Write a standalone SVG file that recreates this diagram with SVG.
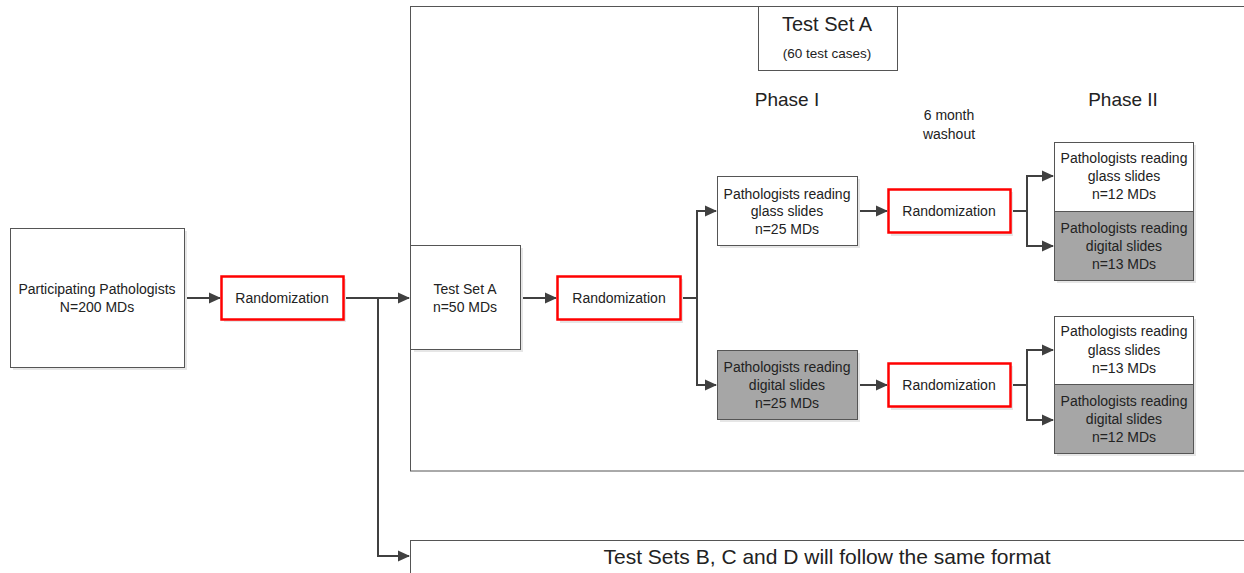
<svg xmlns="http://www.w3.org/2000/svg" width="1244" height="573" viewBox="0 0 1244 573">
<defs>
<marker id="ah" markerWidth="12" markerHeight="12" refX="11" refY="6" orient="auto" markerUnits="userSpaceOnUse">
<path d="M0,0.5 L12,6 L0,11.5 Z" fill="#404040"/>
</marker>
</defs>
<style>
text{font-family:"Liberation Sans",Arial,sans-serif;fill:#222;text-anchor:middle}
.t{font-size:14px}
.big{font-size:19px}
.box{fill:#fff;stroke:#555;stroke-width:1}
.gray{fill:#a6a6a6;stroke:#555;stroke-width:1}
.red{fill:#fff;stroke:#f00;stroke-width:2.5}
.sh{fill:#e6e6e6}
.c{fill:none;stroke:#404040;stroke-width:2}
</style>
<rect width="1244" height="573" fill="#fff"/>

<g id="testSetAContainer">
<rect class="box" x="410.5" y="6.5" width="850" height="464.5"/>
</g>
<g id="testSetsBCD">
<rect class="box" x="410.5" y="540.5" width="850" height="50"/>
<text x="827" y="564" style="font-size:21px">Test Sets B, C and D will follow the same format</text>
</g>
<g id="testSetATitle">
<rect class="box" x="758.5" y="6.5" width="139" height="64"/>
<text x="827" y="31" style="font-size:20px">Test Set A</text>
<text x="827" y="58" style="font-size:13.5px">(60 test cases)</text>
</g>
<g id="phaseI"><text class="big" x="787" y="106">Phase I</text></g>
<g id="phaseII"><text class="big" x="1123" y="106">Phase II</text></g>
<g id="washout">
<text class="t" x="949" y="120">6 month</text>
<text class="t" x="949" y="139">washout</text>
</g>

<g id="connectors">
<line class="c" x1="184" y1="298" x2="220" y2="298" marker-end="url(#ah)"/>
<line class="c" x1="343" y1="298" x2="409" y2="298" marker-end="url(#ah)"/>
<polyline class="c" points="378,298 378,556 409,556" marker-end="url(#ah)"/>
<line class="c" x1="520" y1="298" x2="556" y2="298" marker-end="url(#ah)"/>
<line class="c" x1="680" y1="298" x2="697" y2="298"/>
<polyline class="c" points="697,298 697,385 716,385" marker-end="url(#ah)"/>
<polyline class="c" points="697,298 697,211 716,211" marker-end="url(#ah)"/>
<line class="c" x1="857" y1="211" x2="887" y2="211" marker-end="url(#ah)"/>
<line class="c" x1="857" y1="385" x2="887" y2="385" marker-end="url(#ah)"/>
<line class="c" x1="1010" y1="211" x2="1027" y2="211"/>
<polyline class="c" points="1027,211 1027,246 1053,246" marker-end="url(#ah)"/>
<polyline class="c" points="1027,211 1027,176 1053,176" marker-end="url(#ah)"/>
<line class="c" x1="1010" y1="385" x2="1027" y2="385"/>
<polyline class="c" points="1027,385 1027,420 1053,420" marker-end="url(#ah)"/>
<polyline class="c" points="1027,385 1027,350 1053,350" marker-end="url(#ah)"/>
</g>

<g id="participating">
<rect class="sh" x="13" y="231" width="174" height="139"/>
<rect class="box" x="10.5" y="228.5" width="174" height="139"/>
<text class="t" x="97" y="294">Participating Pathologists</text>
<text class="t" x="97" y="312">N=200 MDs</text>
</g>
<g id="randomization1">
<rect class="sh" x="224" y="279" width="122" height="43"/>
<rect class="red" x="221.5" y="276.5" width="122" height="43"/>
<text class="t" x="282" y="303">Randomization</text>
</g>
<g id="testSetA50">
<rect class="sh" x="414" y="248" width="109" height="104"/>
<rect class="box" x="410.5" y="245.5" width="110" height="104"/>
<text class="t" x="465" y="294">Test Set A</text>
<text class="t" x="465" y="312">n=50 MDs</text>
</g>
<g id="randomization2">
<rect class="sh" x="560" y="279" width="123" height="44"/>
<rect class="red" x="557.5" y="276.5" width="123" height="43"/>
<text class="t" x="619" y="303">Randomization</text>
</g>
<g id="glassPhaseI">
<rect class="sh" x="720" y="179" width="140" height="69"/>
<rect class="box" x="717.5" y="176.5" width="140" height="69"/>
<text class="t" x="787" y="199">Pathologists reading</text>
<text class="t" x="787" y="216">glass slides</text>
<text class="t" x="787" y="234">n=25 MDs</text>
</g>
<g id="digitalPhaseI">
<rect class="sh" x="720" y="353" width="140" height="69"/>
<rect class="gray" x="717.5" y="350.5" width="140" height="69"/>
<text class="t" x="787" y="372">Pathologists reading</text>
<text class="t" x="787" y="390">digital  slides</text>
<text class="t" x="787" y="408">n=25 MDs</text>
</g>
<g id="randomization3">
<rect class="sh" x="891" y="192" width="122" height="44"/>
<rect class="red" x="888.5" y="189.5" width="122" height="43"/>
<text class="t" x="949" y="216">Randomization</text>
</g>
<g id="randomization4">
<rect class="sh" x="891" y="366" width="122" height="44"/>
<rect class="red" x="888.5" y="363.5" width="122" height="43"/>
<text class="t" x="949" y="390">Randomization</text>
</g>
<g id="phaseIIUpper">
<rect class="sh" x="1057" y="145" width="139" height="138"/>
<rect class="box" x="1054.5" y="142.5" width="139" height="69"/>
<rect class="gray" x="1054.5" y="211.5" width="139" height="69"/>
<text class="t" x="1124" y="163">Pathologists reading</text>
<text class="t" x="1124" y="181">glass slides</text>
<text class="t" x="1124" y="199">n=12 MDs</text>
<text class="t" x="1124" y="233">Pathologists reading</text>
<text class="t" x="1124" y="251">digital slides</text>
<text class="t" x="1124" y="269">n=13 MDs</text>
</g>
<g id="phaseIILower">
<rect class="sh" x="1057" y="319" width="139" height="137"/>
<rect class="box" x="1054.5" y="316.5" width="139" height="68"/>
<rect class="gray" x="1054.5" y="384.5" width="139" height="69"/>
<text class="t" x="1124" y="336">Pathologists reading</text>
<text class="t" x="1124" y="355">glass slides</text>
<text class="t" x="1124" y="373">n=13 MDs</text>
<text class="t" x="1124" y="406">Pathologists reading</text>
<text class="t" x="1124" y="424">digital slides</text>
<text class="t" x="1124" y="442">n=12 MDs</text>
</g>
</svg>
